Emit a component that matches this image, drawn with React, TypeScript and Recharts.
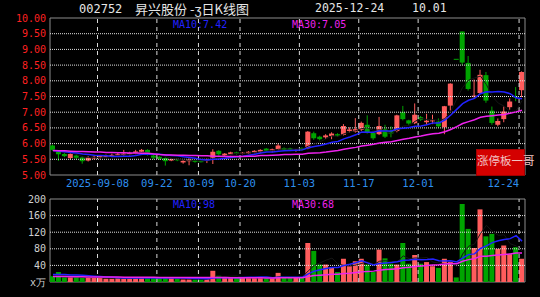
import {
  Bar,
  Cell,
  ComposedChart,
  Line,
  ReferenceArea,
  ReferenceLine,
  XAxis,
  YAxis,
} from "recharts";

// trading days shown on the daily K chart (80 sessions)
const dates = [
  "2025-08-27", "2025-08-28", "2025-08-29", "2025-09-01", "2025-09-02", "2025-09-03", "2025-09-04", "2025-09-05",
  "2025-09-08", "2025-09-09", "2025-09-10", "2025-09-11", "2025-09-12", "2025-09-15", "2025-09-16", "2025-09-17",
  "2025-09-18", "2025-09-19", "2025-09-22", "2025-09-23", "2025-09-24", "2025-09-25", "2025-09-26", "2025-09-29",
  "2025-09-30", "2025-10-09", "2025-10-10", "2025-10-13", "2025-10-14", "2025-10-15", "2025-10-16", "2025-10-17",
  "2025-10-20", "2025-10-21", "2025-10-22", "2025-10-23", "2025-10-24", "2025-10-27", "2025-10-28", "2025-10-29",
  "2025-10-30", "2025-10-31", "2025-11-03", "2025-11-04", "2025-11-05", "2025-11-06", "2025-11-07", "2025-11-10",
  "2025-11-11", "2025-11-12", "2025-11-13", "2025-11-14", "2025-11-17", "2025-11-18", "2025-11-19", "2025-11-20",
  "2025-11-21", "2025-11-24", "2025-11-25", "2025-11-26", "2025-11-27", "2025-11-28", "2025-12-01", "2025-12-02",
  "2025-12-03", "2025-12-04", "2025-12-05", "2025-12-08", "2025-12-09", "2025-12-10", "2025-12-11", "2025-12-12",
  "2025-12-15", "2025-12-16", "2025-12-17", "2025-12-18", "2025-12-19", "2025-12-22", "2025-12-23", "2025-12-24",
];

const openPrices = [
  5.94, 5.74, 5.67, 5.54, 5.62, 5.56, 5.46, 5.53, 5.55, 5.58,
  5.60, 5.62, 5.64, 5.66, 5.70, 5.74, 5.80, 5.62, 5.58, 5.54,
  5.46, 5.50, 5.40, 5.44, 5.46, 5.44, 5.46, 5.55, 5.77, 5.62,
  5.66, 5.72, 5.69, 5.69, 5.71, 5.73, 5.84, 5.77, 5.81, 5.86,
  5.85, 5.78, 5.86, 5.85, 6.33, 6.22, 6.20, 6.24, 6.30, 6.28,
  6.40, 6.38, 6.44, 6.60, 6.34, 6.30, 6.45, 6.40, 6.40, 7.00,
  6.74, 6.65, 6.84, 6.68, 6.72, 6.70, 6.52, 7.21, 8.70, 9.57,
  8.57, 7.50, 7.61, 8.18, 7.05, 6.60, 6.78, 7.16, 7.50, 7.70,
];
const highPrices = [
  5.97, 5.77, 5.70, 5.70, 5.66, 5.60, 5.60, 5.62, 5.63, 5.65,
  5.68, 5.70, 5.80, 5.74, 5.80, 5.83, 5.82, 5.65, 5.60, 5.56,
  5.53, 5.52, 5.48, 5.53, 5.48, 5.46, 5.52, 5.82, 5.79, 5.70,
  5.74, 5.74, 5.73, 5.76, 5.79, 5.82, 5.86, 5.84, 6.00, 5.88,
  5.87, 5.82, 5.88, 6.40, 6.38, 6.25, 6.30, 6.36, 6.33, 6.62,
  6.52, 6.81, 6.70, 6.90, 6.38, 6.85, 6.60, 6.55, 6.92, 7.20,
  6.76, 7.28, 6.88, 6.95, 6.92, 6.80, 7.20, 7.92, 8.70, 9.57,
  8.79, 8.04, 8.35, 8.28, 7.18, 6.80, 7.18, 7.44, 7.80, 8.30,
];
const lowPrices = [
  5.77, 5.45, 5.57, 5.48, 5.50, 5.36, 5.43, 5.50, 5.52, 5.55,
  5.57, 5.60, 5.60, 5.62, 5.66, 5.72, 5.62, 5.50, 5.48, 5.30,
  5.44, 5.44, 5.36, 5.31, 5.39, 5.40, 5.38, 5.35, 5.62, 5.60,
  5.63, 5.65, 5.66, 5.67, 5.69, 5.70, 5.75, 5.72, 5.79, 5.77,
  5.76, 5.74, 5.78, 5.82, 6.12, 6.10, 6.15, 6.14, 6.21, 6.26,
  6.35, 6.35, 6.40, 6.32, 6.12, 6.27, 6.18, 6.20, 6.36, 6.74,
  6.60, 6.62, 6.72, 6.60, 6.62, 6.50, 6.30, 7.05, 8.70, 8.50,
  7.69, 7.46, 7.58, 7.30, 6.60, 6.55, 6.68, 7.08, 7.35, 7.48,
];
const closePrices = [
  5.80, 5.66, 5.60, 5.67, 5.55, 5.44, 5.56, 5.58, 5.60, 5.62,
  5.64, 5.66, 5.68, 5.70, 5.75, 5.80, 5.64, 5.55, 5.52, 5.44,
  5.50, 5.47, 5.45, 5.50, 5.42, 5.42, 5.50, 5.74, 5.66, 5.68,
  5.72, 5.67, 5.71, 5.74, 5.77, 5.80, 5.77, 5.82, 5.94, 5.80,
  5.79, 5.80, 5.81, 6.38, 6.17, 6.14, 6.26, 6.32, 6.25, 6.56,
  6.45, 6.46, 6.66, 6.36, 6.17, 6.56, 6.22, 6.32, 6.90, 6.78,
  6.64, 6.92, 6.76, 6.73, 6.74, 6.55, 7.19, 7.91, 8.70, 8.58,
  7.74, 7.53, 8.19, 7.37, 6.66, 6.72, 7.02, 7.34, 7.48, 8.28,
];

const ma5 = [
  5.80, 5.76, 5.72, 5.70, 5.66, 5.58, 5.56, 5.56, 5.55, 5.56,
  5.60, 5.62, 5.64, 5.66, 5.69, 5.72, 5.71, 5.69, 5.65, 5.59,
  5.53, 5.50, 5.48, 5.47, 5.47, 5.45, 5.46, 5.52, 5.55, 5.60,
  5.66, 5.69, 5.69, 5.70, 5.72, 5.74, 5.76, 5.78, 5.82, 5.83,
  5.82, 5.83, 5.83, 5.92, 5.99, 6.06, 6.15, 6.25, 6.23, 6.31,
  6.37, 6.41, 6.48, 6.50, 6.42, 6.44, 6.39, 6.33, 6.43, 6.56,
  6.57, 6.71, 6.80, 6.77, 6.76, 6.74, 6.79, 7.02, 7.42, 7.79,
  8.02, 8.09, 8.15, 7.88, 7.50, 7.29, 7.19, 7.02, 7.04, 7.37,
];
const ma10 = [
  5.78, 5.76, 5.74, 5.72, 5.70, 5.67, 5.65, 5.63, 5.62, 5.61,
  5.59, 5.59, 5.60, 5.60, 5.62, 5.66, 5.67, 5.66, 5.66, 5.64,
  5.62, 5.61, 5.58, 5.56, 5.53, 5.49, 5.48, 5.50, 5.51, 5.53,
  5.56, 5.58, 5.60, 5.63, 5.66, 5.70, 5.73, 5.73, 5.76, 5.77,
  5.78, 5.79, 5.80, 5.87, 5.91, 5.94, 5.99, 6.04, 6.07, 6.15,
  6.21, 6.28, 6.37, 6.36, 6.36, 6.41, 6.40, 6.40, 6.47, 6.49,
  6.51, 6.55, 6.56, 6.60, 6.66, 6.66, 6.75, 6.91, 7.09, 7.27,
  7.38, 7.44, 7.59, 7.65, 7.64, 7.66, 7.64, 7.59, 7.46, 7.43,
];
const ma30 = [
  5.78, 5.77, 5.77, 5.76, 5.75, 5.75, 5.74, 5.73, 5.73, 5.72,
  5.72, 5.71, 5.71, 5.70, 5.70, 5.69, 5.69, 5.67, 5.65, 5.64,
  5.64, 5.63, 5.63, 5.62, 5.62, 5.61, 5.61, 5.60, 5.60, 5.59,
  5.59, 5.59, 5.59, 5.60, 5.60, 5.62, 5.62, 5.63, 5.64, 5.65,
  5.65, 5.66, 5.66, 5.69, 5.70, 5.71, 5.73, 5.76, 5.78, 5.82,
  5.85, 5.88, 5.92, 5.95, 5.98, 6.02, 6.04, 6.06, 6.10, 6.14,
  6.17, 6.21, 6.24, 6.28, 6.31, 6.33, 6.38, 6.45, 6.54, 6.64,
  6.70, 6.76, 6.84, 6.87, 6.89, 6.91, 6.93, 6.97, 7.01, 7.06,
];

// volume in 万手
const volume = [
  14, 24, 11, 11, 11, 10, 11, 11, 10, 8,
  8, 10, 8, 10, 10, 11, 10, 10, 10, 10,
  10, 8, 6, 6, 6, 6, 8, 27, 15, 10,
  10, 10, 10, 10, 10, 10, 10, 10, 22, 10,
  10, 10, 10, 94, 75, 42, 42, 35, 24, 56,
  38, 50, 56, 42, 24, 78, 57, 44, 42, 94,
  44, 65, 44, 48, 38, 34, 56, 48, 11, 188,
  128, 82, 175, 110, 116, 80, 88, 67, 84, 56,
];
const vma5 = [
  14, 16, 15, 15, 14.2, 13.4, 10.8, 10.8, 10.6, 10.0,
  9.6, 9.4, 8.8, 8.8, 9.2, 9.8, 9.8, 10.2, 10.2, 10.2,
  10.0, 9.6, 8.8, 8.0, 7.2, 6.4, 6.4, 10.6, 12.4, 13.2,
  14.0, 14.4, 11.0, 10.0, 10.0, 10.0, 10.0, 10.0, 12.4, 12.4,
  12.4, 12.4, 12.4, 26.8, 39.8, 46.2, 52.6, 57.6, 43.6, 39.8,
  39.0, 40.6, 44.8, 48.4, 42.0, 50.0, 51.4, 49.0, 49.0, 63.0,
  56.2, 57.8, 57.8, 59.0, 47.8, 45.8, 44.0, 44.8, 37.4, 67.4,
  86.2, 91.4, 116.8, 136.6, 122.2, 112.6, 113.8, 92.2, 87.0, 75.0,
];
const vma10 = [
  18, 18, 18, 17, 17, 16, 15, 14, 13, 12.1,
  11.5, 10.1, 9.8, 9.7, 9.6, 9.7, 9.6, 9.5, 9.5, 9.7,
  9.9, 9.7, 9.5, 9.1, 8.7, 8.2, 8.0, 9.7, 10.2, 10.2,
  10.2, 10.4, 10.8, 11.2, 11.6, 12.0, 12.2, 10.5, 11.2, 11.2,
  11.2, 11.2, 11.2, 19.6, 26.1, 29.3, 32.5, 35.0, 35.2, 39.8,
  42.6, 46.6, 51.2, 46.0, 40.9, 44.5, 46.0, 46.9, 48.7, 52.5,
  53.1, 54.6, 53.4, 54.0, 55.4, 51.0, 50.9, 51.3, 48.2, 57.6,
  66.0, 67.7, 80.8, 87.0, 94.8, 99.4, 102.6, 104.5, 111.8, 98.6,
];
const vma30 = [
  13, 13, 13, 12.8, 12.6, 12.4, 12.3, 12.2, 12.1, 12.0,
  11.9, 11.8, 11.7, 11.6, 11.5, 11.4, 11.3, 11.2, 11.1, 11.0,
  11.0, 10.9, 10.9, 10.8, 10.8, 10.7, 10.7, 10.7, 10.7, 10.7,
  10.5, 10.1, 10.0, 10.0, 10.0, 10.0, 9.9, 9.9, 10.3, 10.4,
  10.4, 10.4, 10.5, 13.3, 15.5, 16.5, 17.6, 18.4, 18.9, 20.4,
  21.3, 22.7, 24.4, 25.6, 26.2, 28.6, 30.2, 30.8, 31.7, 34.5,
  35.6, 37.5, 38.6, 39.9, 40.8, 41.6, 43.1, 44.4, 44.0, 50.0,
  53.9, 56.3, 61.8, 62.3, 63.7, 65.0, 66.5, 67.6, 69.6, 69.6,
];

const tickDates = [
  "2025-09-08", "2025-09-22", "2025-10-09", "2025-10-20",
  "2025-11-03", "2025-11-17", "2025-12-01", "2025-12-24",
];
const tickLabels = ["2025-09-08", "09-22", "10-09", "10-20", "11-03", "11-17", "12-01", "12-24"];
const priceTicks = [5, 5.5, 6, 6.5, 7, 7.5, 8, 8.5, 9, 9.5, 10];
const volumeTicks = [0, 40, 80, 120, 160, 200];

const RED = "#ff5c5c";
const GREEN = "#00a400";
const BLUE = "#2222ff";
const MAGENTA = "#ee22ee";
const GRID = "#e2e2e2";
const MONO = "'DejaVu Sans Mono', monospace";
const CJK = "'Noto Sans CJK SC', sans-serif";

const rows = dates.map((date, i) => ({
  date,
  open: openPrices[i],
  high: highPrices[i],
  low: lowPrices[i],
  close: closePrices[i],
  ma5: ma5[i],
  ma10: ma10[i],
  ma30: ma30[i],
  vol: volume[i],
  vma5: vma5[i],
  vma10: vma10[i],
  vma30: vma30[i],
  up: closePrices[i] > openPrices[i],
}));

function Candle(props: any) {
  const { x, y, width, height, payload } = props;
  const color = payload.up ? RED : GREEN;
  const top = height >= 0 ? y : y + height;
  const h = Math.abs(height);
  const range = payload.high - payload.low;
  const unit = range > 0 ? h / range : 0;
  const yo = top + (payload.high - payload.open) * unit;
  const yc = top + (payload.high - payload.close) * unit;
  const cx = x + width / 2;
  return (
    <g>
      <line x1={cx} x2={cx} y1={top} y2={top + h} stroke={color} strokeWidth={1} />
      <rect
        x={x}
        y={Math.min(yo, yc)}
        width={width}
        height={Math.max(Math.abs(yo - yc), 1)}
        fill={color}
      />
    </g>
  );
}

function DateTick(props: any) {
  const { x, y, payload } = props;
  const k = tickDates.indexOf(payload.value);
  const last = k === tickDates.length - 1;
  return (
    <text
      x={x - (payload.offset ?? 0)}
      y={y + 8}
      fill="#2e8fee"
      fontSize={10.5}
      fontFamily={MONO}
      textAnchor={last ? "end" : "middle"}
    >
      {tickLabels[k]}
    </text>
  );
}

function Overlay({ left, top, size, color, font, children }: any) {
  return (
    <div
      style={{
        position: "absolute",
        left,
        top,
        fontSize: size,
        lineHeight: `${size + 2}px`,
        color,
        fontFamily: font,
        whiteSpace: "nowrap",
      }}
    >
      {children}
    </div>
  );
}

function PriceChart() {
  return (
    <ComposedChart
      width={540}
      height={192}
      data={rows}
      margin={{ top: 18, right: 15, bottom: 0, left: 0 }}
    >
      <XAxis
        dataKey="date"
        ticks={tickDates}
        interval={0}
        height={17}
        tickSize={0}
        tickMargin={4}
        axisLine={false}
        tickLine={false}
        tick={<DateTick />}
      />
      <YAxis
        domain={[5, 10]}
        ticks={priceTicks}
        interval={0}
        width={50}
        tickSize={2}
        tickMargin={2}
        axisLine={false}
        tickLine={false}
        allowDataOverflow
        tick={{ fill: "#ff2020", fontSize: 10, fontFamily: MONO }}
        tickFormatter={(v: number) => v.toFixed(2)}
      />
      {priceTicks.slice(1, -1).map((t) => (
        <ReferenceLine key={t} y={t} stroke={GRID} strokeDasharray="1 1" />
      ))}
      {tickDates.map((d) => (
        <ReferenceLine key={d} x={d} position="start" stroke="#d8d8d8" strokeDasharray="4 4" />
      ))}
      <ReferenceArea y1={5} y2={10} fill="none" stroke="#8c8c8c" />
      <Bar
        dataKey={(d: any) => [d.low, d.high]}
        barSize={5}
        shape={(p: any) => <Candle {...p} />}
        isAnimationActive={false}
      />
      <Line type="linear" dataKey="ma5" stroke="#161616" strokeWidth={1} dot={false} isAnimationActive={false} />
      <Line type="linear" dataKey="ma10" stroke={BLUE} strokeWidth={1.5} dot={false} isAnimationActive={false} />
      <Line type="linear" dataKey="ma30" stroke={MAGENTA} strokeWidth={1.5} dot={false} isAnimationActive={false} />
    </ComposedChart>
  );
}

function VolumeChart() {
  return (
    <ComposedChart
      width={540}
      height={107}
      data={rows}
      margin={{ top: 9, right: 15, bottom: 15, left: 0 }}
    >
      <XAxis dataKey="date" hide />
      <YAxis
        domain={[0, 200]}
        ticks={volumeTicks}
        interval={0}
        width={50}
        tickSize={2}
        tickMargin={2}
        axisLine={false}
        tickLine={false}
        tick={{ fill: "#d0d0d0", fontSize: 10, fontFamily: MONO }}
        tickFormatter={(v: number) => (v === 0 ? "x万" : String(v))}
      />
      {volumeTicks.slice(1, -1).map((t) => (
        <ReferenceLine key={t} y={t} stroke={GRID} strokeDasharray="1 1" />
      ))}
      {tickDates.map((d) => (
        <ReferenceLine key={d} x={d} position="start" stroke="#d8d8d8" strokeDasharray="4 4" />
      ))}
      <ReferenceArea y1={0} y2={200} fill="none" stroke="#8c8c8c" />
      <Bar dataKey="vol" barSize={5} isAnimationActive={false}>
        {rows.map((r) => (
          <Cell key={r.date} fill={r.up ? RED : GREEN} />
        ))}
      </Bar>
      <Line type="linear" dataKey="vma5" stroke="#161616" strokeWidth={1} dot={false} isAnimationActive={false} />
      <Line type="linear" dataKey="vma10" stroke={BLUE} strokeWidth={1.5} dot={false} isAnimationActive={false} />
      <Line type="linear" dataKey="vma30" stroke={MAGENTA} strokeWidth={1.5} dot={false} isAnimationActive={false} />
    </ComposedChart>
  );
}

export default function App() {
  return (
    <div
      style={{
        position: "absolute",
        left: 0,
        top: 0,
        width: 540,
        height: 297,
        background: "#000",
        overflow: "hidden",
      }}
    >
      <div style={{ position: "absolute", left: 0, top: 0 }}>
        <PriceChart />
      </div>
      <div style={{ position: "absolute", left: 0, top: 190 }}>
        <VolumeChart />
      </div>

      <Overlay left={79} top={2} size={12} color="#e6e6e6" font={MONO}>002752</Overlay>
      <Overlay left={135} top={1} size={13} color="#e6e6e6" font={CJK}>昇兴股份 -ʒ日K线图</Overlay>
      <Overlay left={315} top={2} size={11.5} color="#e6e6e6" font={MONO}>2025-12-24</Overlay>
      <Overlay left={412} top={2} size={11.5} color="#e6e6e6" font={MONO}>10.01</Overlay>

      <Overlay left={173} top={19} size={10} color={BLUE} font={MONO}>MA10:7.42</Overlay>
      <Overlay left={292} top={19} size={10} color={MAGENTA} font={MONO}>MA30:7.05</Overlay>
      <Overlay left={173} top={199} size={10} color={BLUE} font={MONO}>MA10:98</Overlay>
      <Overlay left={292} top={199} size={10} color={MAGENTA} font={MONO}>MA30:68</Overlay>

      <div
        style={{
          position: "absolute",
          left: 476,
          top: 149,
          width: 47,
          height: 25,
          background: "#d40000",
          border: "1px solid #a00000",
        }}
      />
      <Overlay left={477} top={154} size={11.5} color="#f2c4c4" font={CJK}>涨停板一哥</Overlay>
    </div>
  );
}
